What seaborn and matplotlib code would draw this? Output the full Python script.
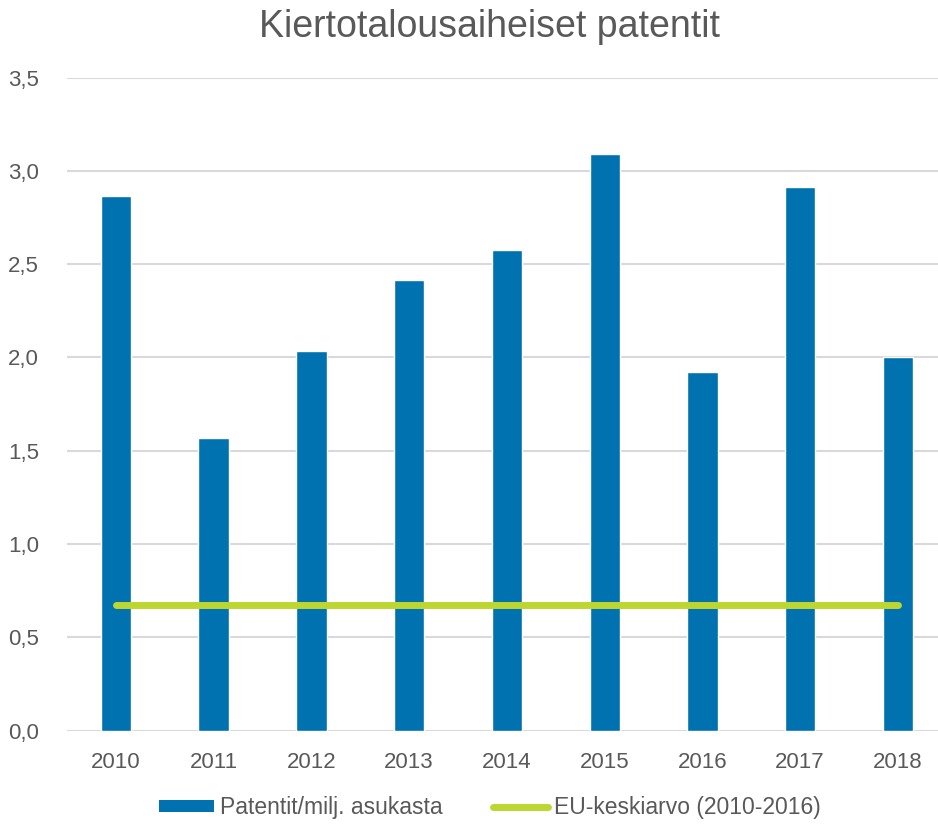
import matplotlib
matplotlib.use('Agg')
import matplotlib.pyplot as plt
import pandas as pd
import seaborn as sns
from matplotlib.patches import Patch
from matplotlib.lines import Line2D

YEARS = ['2010', '2011', '2012', '2013', '2014', '2015', '2016', '2017', '2018']
PATENTS = [2.865, 1.57, 2.035, 2.415, 2.575, 3.09, 1.92, 2.915, 2.005]
EU_AVG = [0.675] * 9
Y_TICKS = [0.0, 0.5, 1.0, 1.5, 2.0, 2.5, 3.0, 3.5]

BAR_COLOR = '#0072B0'
LINE_COLOR = '#BED630'
TEXT_COLOR = '#595959'

sns.set_theme(style='white')
plt.rcParams['font.family'] = ['Liberation Sans', 'DejaVu Sans']

frame = pd.DataFrame({'Year': YEARS, 'Patents': PATENTS, 'EU': EU_AVG})
frame['pos'] = range(len(YEARS))

fig = plt.figure(figsize=(9.38, 8.25), dpi=100)
ax = fig.add_axes([0.0714, 0.1143, 0.938, 0.7917])

sns.barplot(data=frame, x='Year', y='Patents', color=BAR_COLOR,
            width=0.31, saturation=1, ax=ax, zorder=2)
sns.lineplot(data=frame, x='pos', y='EU', color=LINE_COLOR, linewidth=5,
             solid_capstyle='round', ax=ax, zorder=3)

ax.set_xlim(-0.5, len(YEARS) - 0.5)
ax.set_ylim(0, 3.5)
ax.set_yticks(Y_TICKS)
ax.set_yticklabels([f"{t:.1f}".replace('.', ',') for t in Y_TICKS])
ax.yaxis.grid(True, color='#D9D9D9', linewidth=1.5, zorder=0)
ax.xaxis.grid(False)
ax.set_axisbelow(True)
for spine in ax.spines.values():
    spine.set_visible(False)
ax.tick_params(axis='both', length=0, labelsize=16, labelcolor=TEXT_COLOR)
ax.tick_params(axis='x', pad=15)
ax.tick_params(axis='y', pad=20)
ax.set_xlabel('')
ax.set_ylabel('')

fig.suptitle('Kiertotalousaiheiset patentit', fontsize=27, color=TEXT_COLOR,
             x=0.522, y=0.989, va='top')

handles = [
    Patch(facecolor=BAR_COLOR, edgecolor='none'),
    Line2D([0], [0], color=LINE_COLOR, linewidth=5, solid_capstyle='round'),
]
fig.legend(handles, ['Patentit/milj. asukasta', 'EU-keskiarvo (2010-2016)'],
           loc='lower center', bbox_to_anchor=(0.522, -0.018), ncol=2,
           frameon=False, fontsize=16.5, labelcolor=TEXT_COLOR,
           handlelength=2.4, handleheight=0.45, handletextpad=0.25,
           columnspacing=2.2)

fig.savefig('out.png', dpi=100)
plt.close(fig)
